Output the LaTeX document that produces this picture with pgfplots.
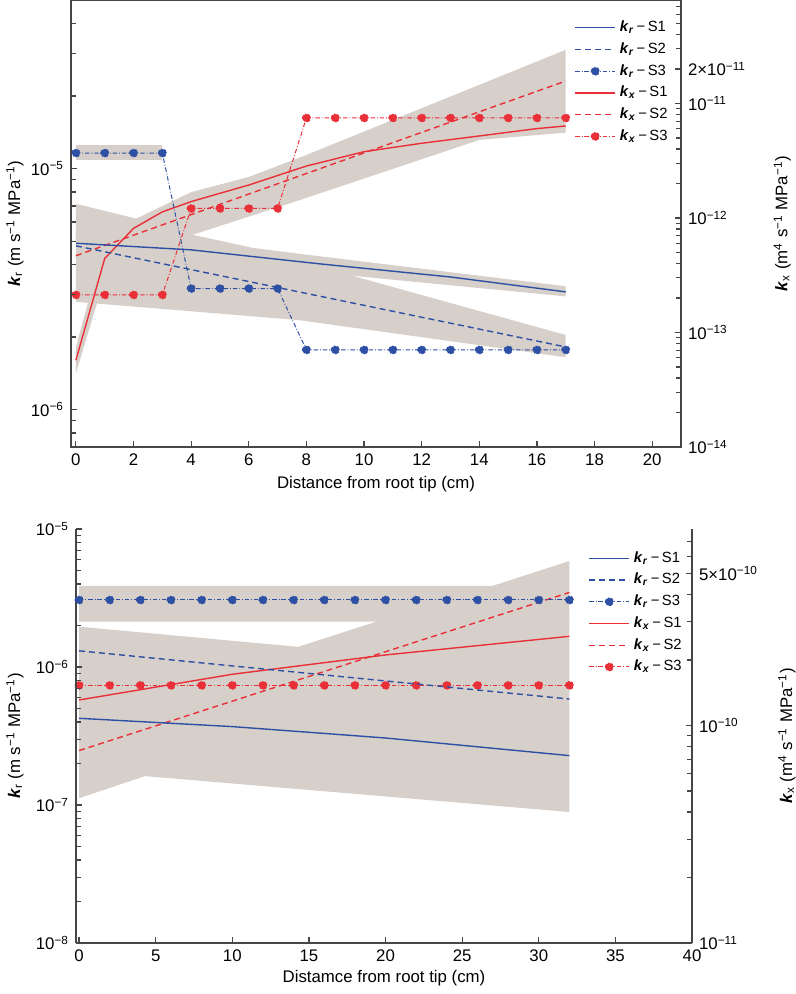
\documentclass[border=0pt]{standalone}
\usepackage{fontspec}
\setmainfont{Liberation Sans}
\usepackage{pgfplots}
\pgfplotsset{compat=1.18}

\definecolor{kblue}{RGB}{45,80,165}
\definecolor{kred}{RGB}{233,47,55}
\definecolor{band}{RGB}{215,207,202}
\definecolor{axgray}{RGB}{70,70,70}

\newcommand{\kr}{\textbf{\textit{k}}\textsubscript{\textbf{\textit{r}}}}
\newcommand{\kx}{\textbf{\textit{k}}\textsubscript{\textbf{\textit{x}}}}

\pgfplotsset{
  panel/.style={scale only axis, tick align=inside,
    axis line style={-, axgray, line width=0.6pt},
    tick style={axgray, line width=0.6pt},
    major tick length=3.2pt, minor tick length=2.6pt,
    ticklabel style={font=\fontsize{8.4}{10}\selectfont},
    label style={font=\fontsize{8.4}{10}\selectfont},
    /pgf/number format/assume math mode=true},
  s1/.style={line width=0.7pt, no marks},
  s2/.style={line width=0.7pt, dash pattern=on 3pt off 2pt, no marks},
  s3/.style={line width=0.5pt, dash pattern=on 2.2pt off 1pt on 0.4pt off 1pt,
    mark=*, mark size=2pt, mark options={solid}},
  leg/.style={legend cell align=left,
    legend style={draw=none, fill=none, font=\fontsize{7.4}{8.5}\selectfont,
      row sep=0pt, at={#1}, anchor=north east},
    legend image code/.code={\draw[mark repeat=2,mark phase=2,##1]
      plot coordinates {(0pt,0pt) (10pt,0pt) (20pt,0pt)};}},
}

\begin{document}
\begin{tikzpicture}
% ---------- top panel ----------
\begin{axis}[panel, ymode=log, hide axis, width=305pt, height=223.5pt, at={(0,0)}, anchor=south west,
  xmin=-0.17, xmax=21, ymin=7e-7, ymax=5e-5]
\addplot[fill=band, draw=none] coordinates {(0,1.25e-5) (3,1.25e-5) (3,1.08e-5) (0,1.08e-5)} -- cycle;
\addplot[fill=band, draw=none] coordinates {(0,7.14e-6) (2,6.24e-6) (4.06,5.31e-6) (6.13,4.69e-6)
  (7.76,4.43e-6) (17,3.25e-6) (17,2.95e-6) (9.6,3.59e-6) (0,5.01e-6)} -- cycle;
\addplot[fill=band, draw=none] coordinates {(0,5.62e-6) (9.6,3.59e-6) (17,2.04e-6) (17,1.65e-6)
  (7.76,2.35e-6) (0,2.80e-6)} -- cycle;
\end{axis}

\begin{axis}[panel, ymode=log, width=305pt, height=223.5pt, at={(0,0)}, anchor=south west,
  xmin=-0.17, xmax=21, ymin=1e-14, ymax=8e-11,
  axis y line*=right, axis x line=none,
  ytick={1e-14,1e-13,1e-12,1e-11,2e-11},
  yticklabels={10\textsuperscript{−14},10\textsuperscript{−13},10\textsuperscript{−12},10\textsuperscript{−11},2×10\textsuperscript{−11}},
  minor ytick={2e-14,3e-14,4e-14,5e-14,6e-14,7e-14,8e-14,9e-14,2e-13,3e-13,4e-13,5e-13,6e-13,7e-13,8e-13,9e-13,
    2e-12,3e-12,4e-12,5e-12,6e-12,7e-12,8e-12,9e-12,3e-11,4e-11,5e-11,6e-11,7e-11},
  ylabel={\textbf{\textit{k}}\textsubscript{x} (m\textsuperscript{4} s\textsuperscript{−1} MPa\textsuperscript{−1})},
  ylabel style={at={(axis description cs:1.166,0.5)}, anchor=center}]
\addplot[fill=band, draw=none] coordinates {(0,7.5e-14) (1,6.2e-13) (2,9.6e-13) (4,1.68e-12) (6,2.28e-12)
  (8,3.55e-12) (17,2.94e-11) (17,5.56e-12) (14,4.8e-12) (7.76,1.43e-12) (4.06,7.14e-13) (2,4.3e-13)
  (1,3.0e-13) (0,4.4e-14)} -- cycle;
\addplot[kred, s1] coordinates {(0,5.73e-14) (1,4.43e-13) (2,8.11e-13) (3,1.13e-12) (4,1.39e-12)
  (6,1.94e-12) (8,2.84e-12) (10,3.79e-12) (12,4.49e-12) (14,5.20e-12) (16,6.03e-12) (17,6.36e-12)};
\addplot[kred, s2] coordinates {(0,4.68e-13) (17,1.57e-11)};
\addplot[kred, s3, mark options={fill=kred}] coordinates {(0,2.13e-13) (1,2.13e-13) (2,2.13e-13) (3,2.13e-13)
  (4,1.21e-12) (5,1.21e-12) (6,1.21e-12) (7,1.21e-12) (8,7.47e-12) (9,7.47e-12) (10,7.47e-12)
  (11,7.47e-12) (12,7.47e-12) (13,7.47e-12) (14,7.47e-12) (15,7.47e-12) (16,7.47e-12) (17,7.47e-12)};
\end{axis}

\begin{axis}[panel, ymode=log, width=305pt, height=223.5pt, at={(0,0)}, anchor=south west,
  xmin=-0.17, xmax=21, ymin=7e-7, ymax=5e-5,
  xtick pos=bottom, ytick pos=left,
  xtick={0,2,...,20},
  ytick={1e-6,1e-5}, yticklabels={10\textsuperscript{−6},10\textsuperscript{−5}},
  minor ytick={7e-7,8e-7,9e-7,2e-6,3e-6,4e-6,5e-6,6e-6,7e-6,8e-6,9e-6,2e-5,3e-5,4e-5},
  xlabel={Distance from root tip (cm)},
  xlabel style={at={(axis description cs:0.5,-0.083)}, anchor=center},
  ylabel={\textbf{\textit{k}}\textsubscript{r} (m s\textsuperscript{−1} MPa\textsuperscript{−1})},
  ylabel style={at={(axis description cs:-0.092,0.5)}, anchor=center},
  leg={(rel axis cs:0.995,0.972)}]
\addplot[kblue, s1] coordinates {(0,4.9e-6) (4,4.6e-6) (8.5,4.02e-6) (13,3.55e-6) (17,3.08e-6)};
\addlegendentry{\kr\,−\,S1}
\addplot[kblue, s2] coordinates {(0,4.78e-6) (17,1.82e-6)};
\addlegendentry{\kr\,−\,S2}
\addplot[kblue, s3, mark options={fill=kblue}] coordinates {(0,1.16e-5) (1,1.16e-5) (2,1.16e-5) (3,1.16e-5)
  (4,3.18e-6) (5,3.18e-6) (6,3.18e-6) (7,3.18e-6) (8,1.77e-6) (9,1.77e-6) (10,1.77e-6) (11,1.77e-6)
  (12,1.77e-6) (13,1.77e-6) (14,1.77e-6) (15,1.77e-6) (16,1.77e-6) (17,1.77e-6)};
\addlegendentry{\kr\,−\,S3}
\addlegendimage{kred, s1}
\addlegendentry{\kx\,−\,S1}
\addlegendimage{kred, s2}
\addlegendentry{\kx\,−\,S2}
\addlegendimage{kred, s3, mark options={fill=kred}}
\addlegendentry{\kx\,−\,S3}
\end{axis}

% ---------- bottom panel ----------
\begin{axis}[panel, ymode=log, hide axis, width=308pt, height=207pt, at={(2.5pt,-248pt)}, anchor=south west,
  xmin=-0.2, xmax=40, ymin=1e-8, ymax=1e-5]
\addplot[fill=band, draw=none] coordinates {(0,3.88e-6) (27,3.88e-6) (32,5.86e-6) (32,2.13e-6) (0,2.13e-6)} -- cycle;
\addplot[fill=band, draw=none] coordinates {(0,1.96e-6) (14.3,1.40e-6) (19.5,2.15e-6) (32,2.15e-6)
  (32,8.9e-8) (4.3,1.62e-7) (0,1.12e-7)} -- cycle;
\end{axis}

\begin{axis}[panel, ymode=log, width=308pt, height=207pt, at={(2.5pt,-248pt)}, anchor=south west,
  xmin=-0.2, xmax=40, ymin=1e-11, ymax=8e-10,
  axis y line*=right, axis x line=none,
  ytick={1e-11,1e-10,5e-10},
  yticklabels={10\textsuperscript{−11},10\textsuperscript{−10},5×10\textsuperscript{−10}},
  minor ytick={2e-11,3e-11,4e-11,5e-11,6e-11,7e-11,8e-11,9e-11,2e-10,3e-10,4e-10,6e-10,7e-10},
  ylabel={\textbf{\textit{k}}\textsubscript{x} (m\textsuperscript{4} s\textsuperscript{−1} MPa\textsuperscript{−1})},
  ylabel style={at={(axis description cs:1.154,0.5)}, anchor=center}]
\addplot[kred, s1] coordinates {(0,1.31e-10) (10,1.72e-10) (20,2.11e-10) (32,2.57e-10)};
\addplot[kred, s2] coordinates {(0,7.67e-11) (32,4.09e-10)};
\addplot[kred, s3, mark options={fill=kred}] coordinates {(0,1.53e-10) (2,1.53e-10) (4,1.53e-10) (6,1.53e-10)
  (8,1.53e-10) (10,1.53e-10) (12,1.53e-10) (14,1.53e-10) (16,1.53e-10) (18,1.53e-10) (20,1.53e-10)
  (22,1.53e-10) (24,1.53e-10) (26,1.53e-10) (28,1.53e-10) (30,1.53e-10) (32,1.53e-10)};
\end{axis}

\begin{axis}[panel, ymode=log, width=308pt, height=207pt, at={(2.5pt,-248pt)}, anchor=south west,
  xmin=-0.2, xmax=40, ymin=1e-8, ymax=1e-5,
  axis x line*=bottom, axis y line*=left,
  xtick={0,5,...,40},
  ytick={1e-8,1e-7,1e-6,1e-5},
  yticklabels={10\textsuperscript{−8},10\textsuperscript{−7},10\textsuperscript{−6},10\textsuperscript{−5}},
  minor ytick={2e-8,3e-8,4e-8,5e-8,6e-8,7e-8,8e-8,9e-8,2e-7,3e-7,4e-7,5e-7,6e-7,7e-7,8e-7,9e-7,
    2e-6,3e-6,4e-6,5e-6,6e-6,7e-6,8e-6,9e-6},
  xlabel={Distamce from root tip (cm)},
  xlabel style={at={(axis description cs:0.5,-0.085)}, anchor=center},
  ylabel={\textbf{\textit{k}}\textsubscript{r} (m s\textsuperscript{−1} MPa\textsuperscript{−1})},
  ylabel style={at={(axis description cs:-0.099,0.5)}, anchor=center},
  leg={(rel axis cs:1.0,0.966)}]
\addplot[kblue, s1] coordinates {(0,4.25e-7) (10,3.70e-7) (20,3.06e-7) (32,2.28e-7)};
\addlegendentry{\kr\,−\,S1}
\addplot[kblue, s2] coordinates {(0,1.31e-6) (32,5.86e-7)};
\addlegendentry{\kr\,−\,S2}
\addplot[kblue, s3, mark options={fill=kblue}] coordinates {(0,3.06e-6) (2,3.06e-6) (4,3.06e-6) (6,3.06e-6)
  (8,3.06e-6) (10,3.06e-6) (12,3.06e-6) (14,3.06e-6) (16,3.06e-6) (18,3.06e-6) (20,3.06e-6)
  (22,3.06e-6) (24,3.06e-6) (26,3.06e-6) (28,3.06e-6) (30,3.06e-6) (32,3.06e-6)};
\addlegendentry{\kr\,−\,S3}
\addlegendimage{kred, s1}
\addlegendentry{\kx\,−\,S1}
\addlegendimage{kred, s2}
\addlegendentry{\kx\,−\,S2}
\addlegendimage{kred, s3, mark options={fill=kred}}
\addlegendentry{\kx\,−\,S3}
\end{axis}

\pgfresetboundingbox
\path (-35.5pt,223.5pt) rectangle (362.5pt,-273.5pt);
\end{tikzpicture}
\end{document}
